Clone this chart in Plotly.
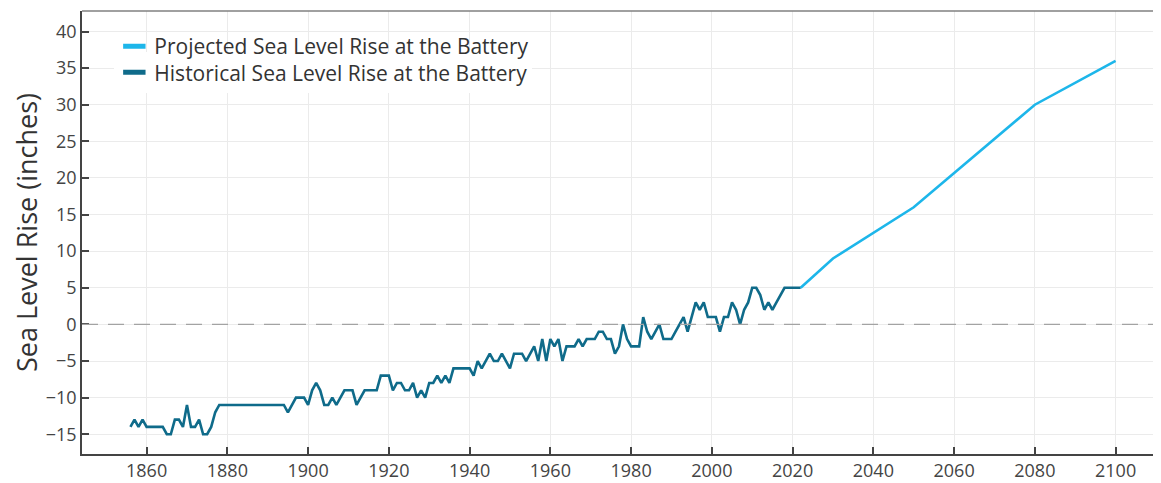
import plotly.graph_objects as go

# historical annual sea level at the Battery (inches), 1856-2022
hist_years = list(range(1856, 2023))
hist_values = [
    -14, -13, -14, -13, -14, -14, -14, -14, -14, -15,   # 1856-1865
    -15, -13, -13, -14, -11, -14, -14, -13, -15, -15,   # 1866-1875
    -14, -12, -11, -11, -11, -11, -11, -11, -11, -11,   # 1876-1885
    -11, -11, -11, -11, -11, -11, -11, -11, -11, -12,   # 1886-1895
    -11, -10, -10, -10, -11, -9, -8, -9, -11, -11,      # 1896-1905
    -10, -11, -10, -9, -9, -9, -11, -10, -9, -9,        # 1906-1915
    -9, -9, -7, -7, -7, -9, -8, -8, -9, -9,             # 1916-1925
    -8, -10, -9, -10, -8, -8, -7, -8, -7, -8,           # 1926-1935
    -6, -6, -6, -6, -6, -7, -5, -6, -5, -4,             # 1936-1945
    -5, -5, -4, -5, -6, -4, -4, -4, -5, -4,             # 1946-1955
    -3, -5, -2, -5, -2, -3, -2, -5, -3, -3,             # 1956-1965
    -3, -2, -3, -2, -2, -2, -1, -1, -2, -2,             # 1966-1975
    -4, -3, 0, -2, -3, -3, -3, 1, -1, -2,               # 1976-1985
    -1, 0, -2, -2, -2, -1, 0, 1, -1, 1,                 # 1986-1995
    3, 2, 3, 1, 1, 1, -1, 1, 1, 3,                      # 1996-2005
    2, 0, 2, 3, 5, 5, 4, 2, 3, 2,                       # 2006-2015
    3, 4, 5, 5, 5, 5, 5,                                # 2016-2022
]

# projection
proj_years = [2022, 2030, 2050, 2080, 2100]
proj_values = [5, 9, 16, 30, 36]

HIST_COLOR = "#0f6b8a"
PROJ_COLOR = "#1db6ea"

fig = go.Figure()

fig.add_trace(go.Scatter(
    x=hist_years, y=hist_values, mode="lines",
    line=dict(color=HIST_COLOR, width=2.6), showlegend=False,
))
fig.add_trace(go.Scatter(
    x=proj_years, y=proj_values, mode="lines",
    line=dict(color=PROJ_COLOR, width=2.6), showlegend=False,
))

# legend-only entries, short thick swatches; one legend per row to control spacing.
# "legend" (bottom row, white box) is drawn first, "legend2" (top row, clear box) over it.
for name, color, leg in [("Projected Sea Level Rise at the Battery", PROJ_COLOR, "legend2"),
                         ("Historical Sea Level Rise at the Battery", HIST_COLOR, "legend")]:
    fig.add_trace(go.Scatter(
        x=[None], y=[None], mode="markers", name=name, legend=leg,
        marker=dict(symbol="line-ew", size=20, color=color, line=dict(color=color, width=6)),
    ))

# zero reference line (dashed, above grid)
fig.add_hline(y=0, line=dict(color="#a3a3a3", dash="16px,10px", width=1.3))
fig.add_shape(type="line", xref="paper", yref="paper", x0=0, x1=1, y0=1, y1=1,
              line=dict(color="#808080", width=1.5))

axis_common = dict(
    showgrid=True, gridcolor="#ebebeb", gridwidth=1,
    showline=True, linecolor="#444", linewidth=1.5,
    ticks="inside", ticklen=7, tickwidth=2, tickcolor="#444",
    zeroline=False, automargin=False,
    tickfont=dict(size=18, color="#444"),
)

legend_common = dict(x=0.03, xanchor="left", yanchor="top",
                     font=dict(size=21, color="#333"), itemwidth=30)

# page body adds an 8px offset, so margins are trimmed to match
fig.update_layout(
    width=1153, height=475,
    margin=dict(l=74, r=1, t=3, b=29),
    plot_bgcolor="white", paper_bgcolor="white",
    font=dict(family="Open Sans", size=18, color="#444"),
    xaxis=dict(range=[1844, 2111], tickvals=list(range(1860, 2101, 20)), **axis_common),
    yaxis=dict(range=[-17.7, 42.8], tick0=0, dtick=5,
               title=dict(text="Sea Level Rise (inches)", font=dict(size=27, color="#333"), standoff=16),
               **axis_common),
    legend2=dict(y=0.966, bgcolor="rgba(255,255,255,0)", **legend_common),
    legend=dict(y=0.907, bgcolor="white", **legend_common),
)

fig.write_html("out.html")
